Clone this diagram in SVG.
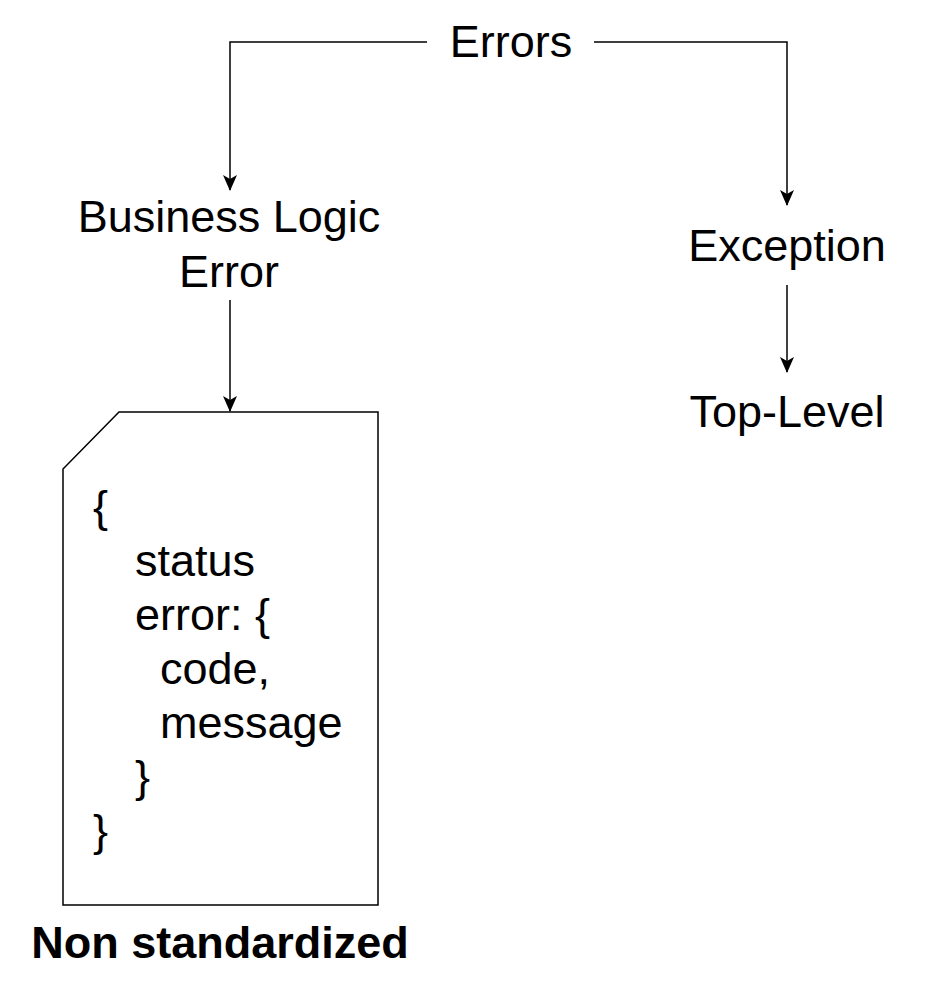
<svg xmlns="http://www.w3.org/2000/svg" width="940" height="1000" viewBox="0 0 940 1000">
<defs>
<style>
.t{font-family:"Liberation Sans",Arial,Helvetica,sans-serif;font-size:45px;fill:#000}
.c{text-anchor:middle}
.b{font-weight:bold}
.ln{fill:none;stroke:#000;stroke-width:1.5}
</style>
<marker id="arr" viewBox="0 0 16 14" refX="15" refY="7" markerWidth="16" markerHeight="14" markerUnits="userSpaceOnUse" orient="auto">
<path d="M0,0 L16,7 L0,14 L4,7 Z" fill="#000"/>
</marker>
</defs>
<rect width="940" height="1000" fill="#fff"/>
<g id="connectors">
<path class="ln" d="M427,42 H230 V190" marker-end="url(#arr)"/>
<path class="ln" d="M594,42 H787 V205" marker-end="url(#arr)"/>
<path class="ln" d="M230,300 V411" marker-end="url(#arr)"/>
<path class="ln" d="M787,285 V372" marker-end="url(#arr)"/>
</g>
<g id="errors"><text class="t c" x="511" y="57">Errors</text></g>
<g id="business"><text class="t c" x="229" y="232">Business Logic</text><text class="t c" x="229" y="287">Error</text></g>
<g id="exception"><text class="t c" x="787" y="261">Exception</text></g>
<g id="toplevel"><text class="t c" x="787" y="427">Top-Level</text></g>
<g id="doc">
<path class="ln" d="M119,412 L378,412 L378,905 L63,905 L63,469 Z"/>
<text class="t" x="93" y="522">{</text>
<text class="t" x="135" y="576">status</text>
<text class="t" x="135" y="630">error: {</text>
<text class="t" x="160" y="684">code,</text>
<text class="t" x="160" y="738">message</text>
<text class="t" x="135" y="792">}</text>
<text class="t" x="93" y="846">}</text>
</g>
<g id="label"><text class="t c b" x="220" y="958">Non standardized</text></g>
</svg>
